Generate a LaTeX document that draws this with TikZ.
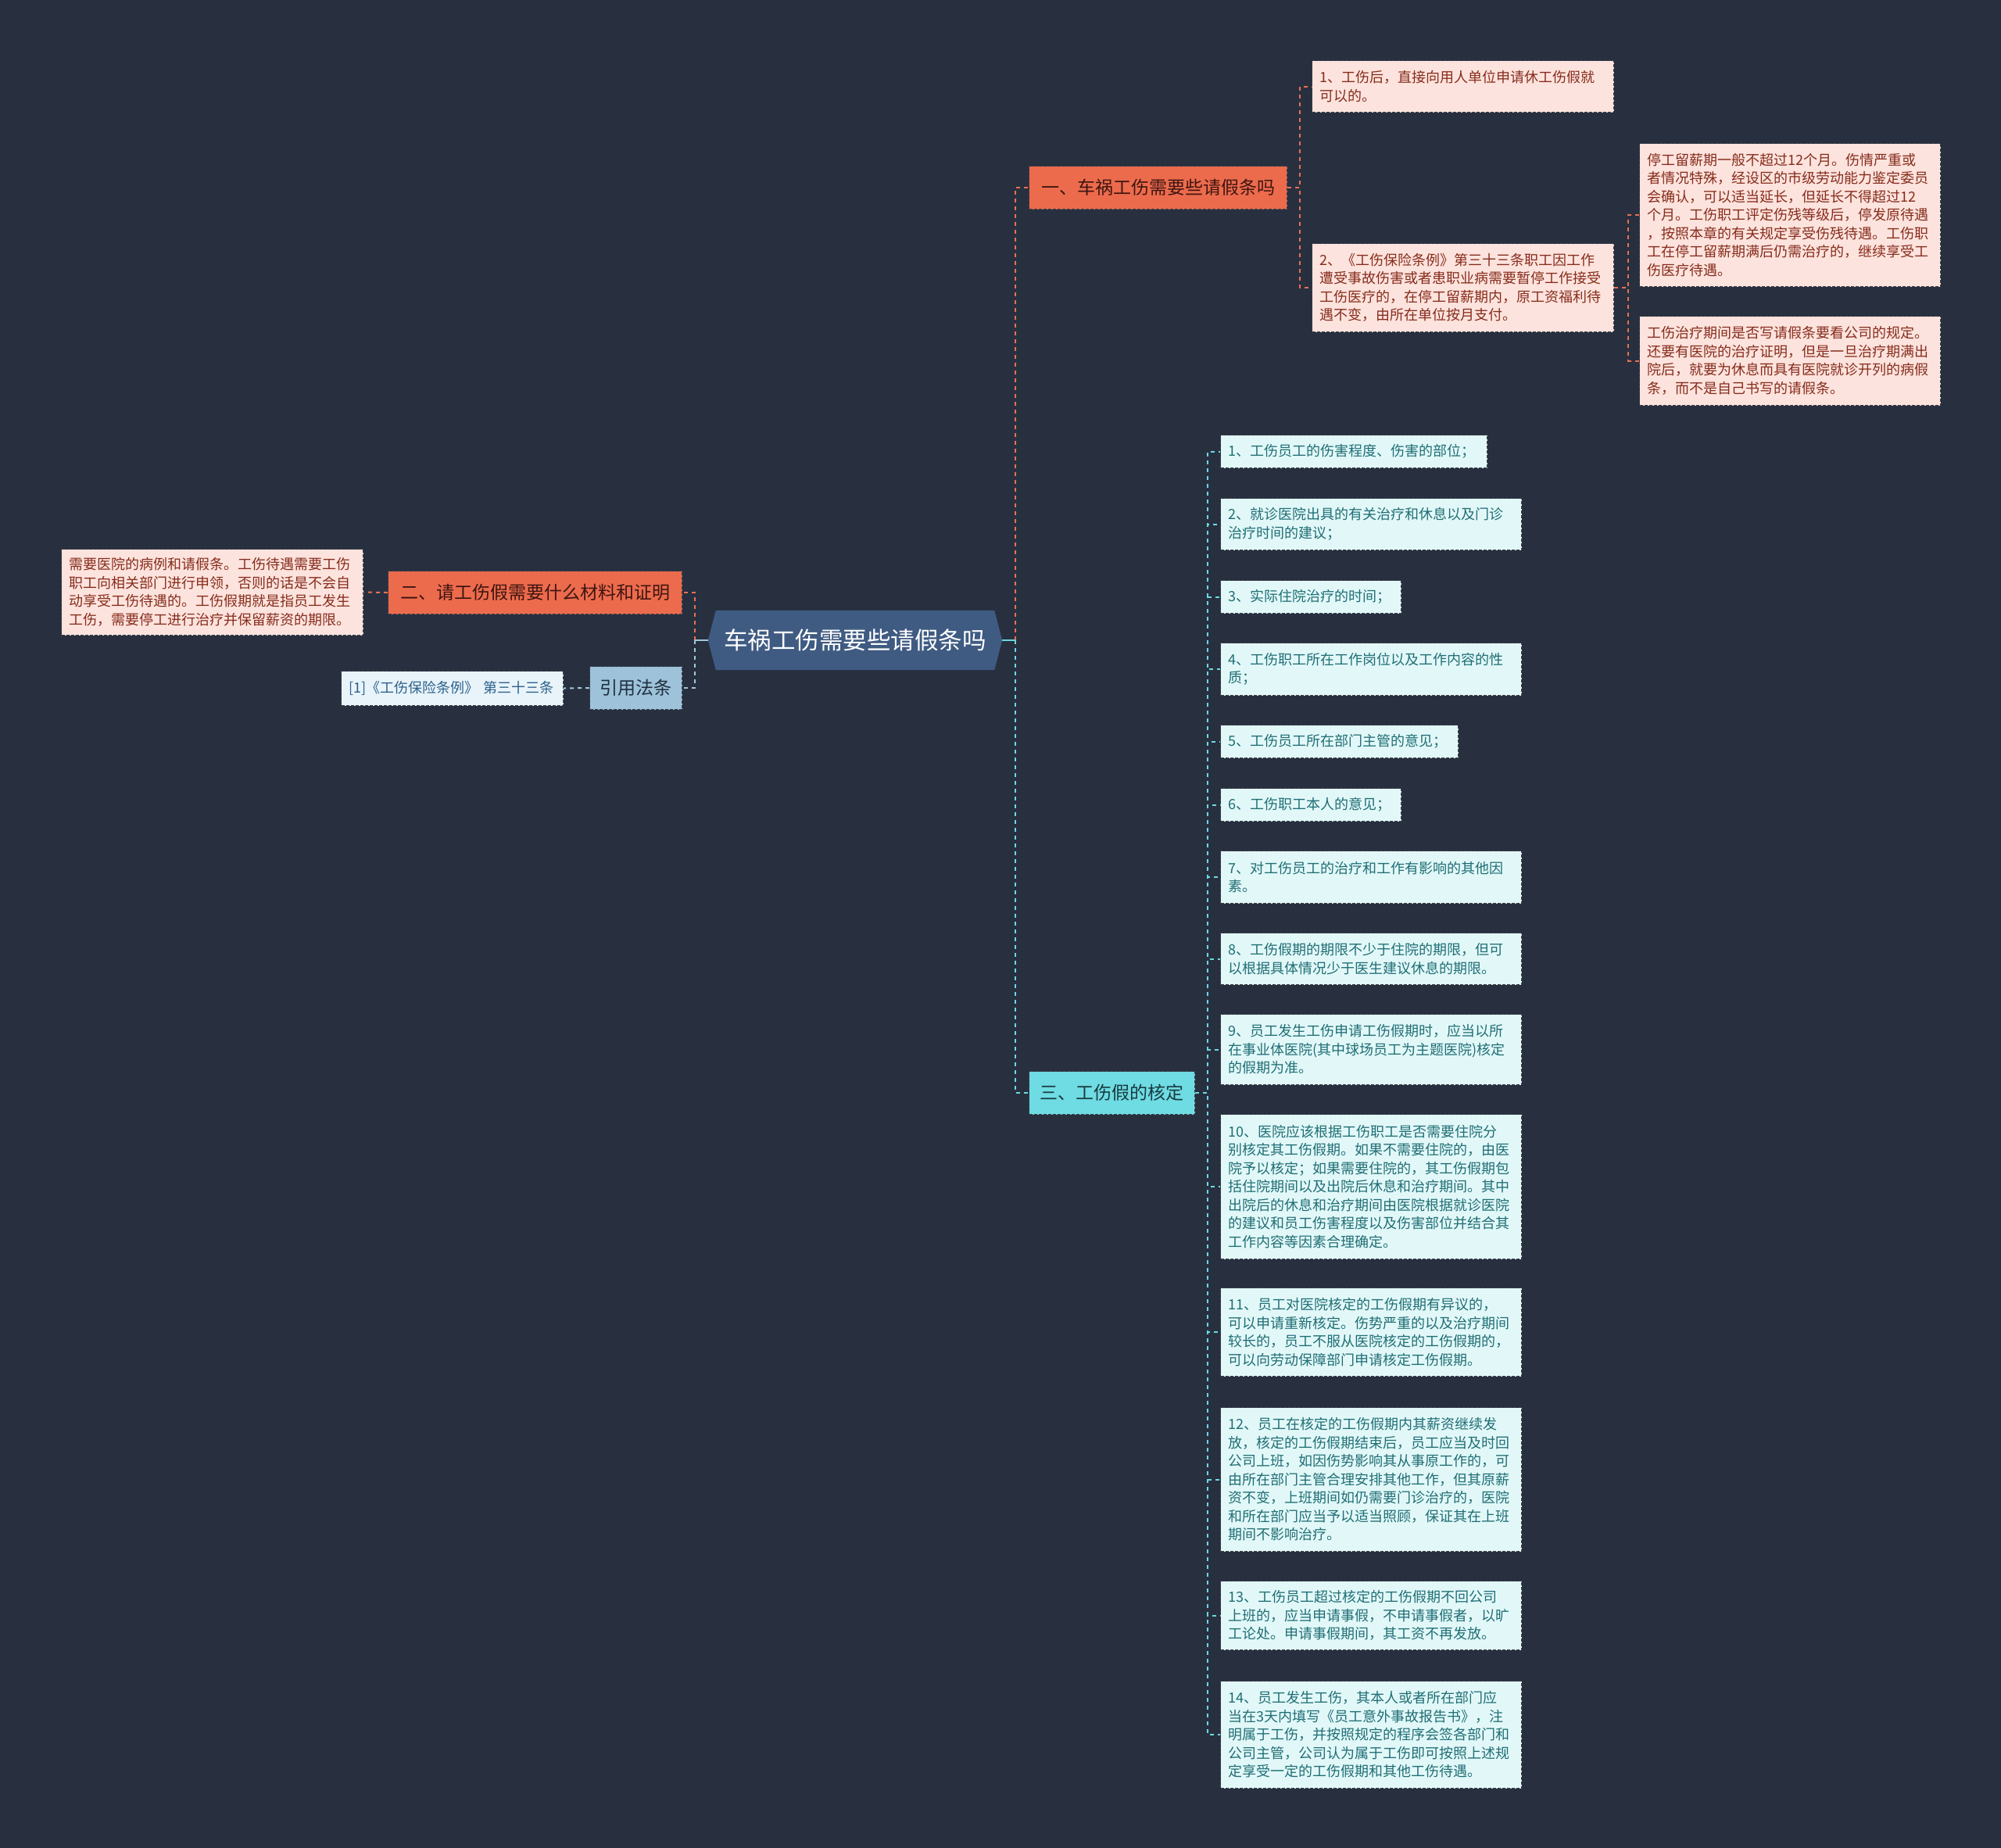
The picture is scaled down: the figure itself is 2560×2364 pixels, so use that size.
\documentclass[tikz,border=0pt]{standalone}
\usepackage{fontspec}
\setmainfont{Noto Sans CJK SC}
\usetikzlibrary{backgrounds}
\definecolor{bg}{HTML}{283040}
\definecolor{cfill}{HTML}{3F5B82}
\definecolor{ofill}{HTML}{EC6B4D}
\definecolor{otext}{HTML}{3E1510}
\definecolor{pfill}{HTML}{FDE3DD}
\definecolor{ptext}{HTML}{862C1C}
\definecolor{cyfill}{HTML}{6FDBE2}
\definecolor{cytext}{HTML}{183A40}
\definecolor{lcfill}{HTML}{E2F8F8}
\definecolor{lctext}{HTML}{1F6E75}
\definecolor{bfill}{HTML}{9DC2DA}
\definecolor{btext}{HTML}{1E2E3E}
\definecolor{rfill}{HTML}{E8F4FA}
\definecolor{rtext}{HTML}{2D5F8A}
\definecolor{bord}{HTML}{3C4048}
\definecolor{conO}{HTML}{E8704F}
\definecolor{conC}{HTML}{6ADBE2}
\definecolor{conB}{HTML}{A3C6DC}
\begin{document}
\begin{tikzpicture}[x=1pt,y=-1pt,
  boxbase/.style={anchor=north west, inner xsep=10pt, inner ysep=0pt, draw=bord, line width=1pt, dash pattern=on 4pt off 2pt},
  leafO/.style={boxbase, fill=pfill, text=ptext, align=left, font=\fontsize{18}{23.5}\selectfont},
  leafC/.style={boxbase, fill=lcfill, text=lctext, align=left, font=\fontsize{18}{23.5}\selectfont},
  leafR/.style={boxbase, fill=rfill, text=rtext, align=left, font=\fontsize{18}{22}\selectfont},
  brO/.style={boxbase, fill=ofill, text=otext, align=center, font=\fontsize{23}{28}\selectfont, minimum height=55pt},
  brC/.style={boxbase, fill=cyfill, text=cytext, align=center, font=\fontsize{23}{28}\selectfont, minimum height=55pt},
  brB/.style={boxbase, fill=bfill, text=btext, align=center, font=\fontsize{23}{28}\selectfont, minimum height=55pt},
  co/.style={draw=conO, line width=2pt, dash pattern=on 5pt off 5pt},
  cc/.style={draw=conC, line width=2pt, dash pattern=on 5pt off 5pt},
  cb/.style={draw=conB, line width=2pt, dash pattern=on 5pt off 5pt},
  ccs/.style={draw=conC, line width=2pt},
  cbs/.style={draw=conB, line width=2pt}]
\useasboundingbox (0,0) rectangle (2560,2364);

% central node
\node[minimum width=376pt, minimum height=76pt, inner sep=0pt, text=white, font=\fontsize{30.5}{36}\selectfont] (c) at (1094,819) {车祸工伤需要些请假条吗};
\begin{scope}[on background layer]
  \fill[bg] (0,0) rectangle (2560,2364);
  \fill[cfill] (c.west) -- ([xshift=10pt]c.north west) -- ([xshift=-10pt]c.north east) -- (c.east) -- ([xshift=-10pt]c.south east) -- ([xshift=10pt]c.south west) -- cycle;
\end{scope}

% branches
\node[brO, minimum width=330pt] (b1) at (1316,212) {一、车祸工伤需要些请假条吗};
\node[brO, minimum width=376pt] (b2) at (496,730) {二、请工伤假需要什么材料和证明};
\node[brC, minimum width=212pt] (b3) at (1316,1370) {三、工伤假的核定};
\node[brB, minimum width=118pt] (yin) at (754,852) {引用法条};

% branch 1 leaves
\node[leafO, text width=366pt, minimum height=66pt] (l11) at (1678,77) {1、工伤后，直接向用人单位申请休工伤假就\\可以的。};
\node[leafO, text width=366pt, minimum height=113pt] (l12) at (1678,311) {2、《工伤保险条例》第三十三条职工因工作\\遭受事故伤害或者患职业病需要暂停工作接受\\工伤医疗的，在停工留薪期内，原工资福利待\\遇不变，由所在单位按月支付。};
\node[leafO, text width=365pt, minimum height=183pt] (l12a) at (2097,183) {停工留薪期一般不超过12个月。伤情严重或\\者情况特殊，经设区的市级劳动能力鉴定委员\\会确认，可以适当延长，但延长不得超过12\\个月。工伤职工评定伤残等级后，停发原待遇\\，按照本章的有关规定享受伤残待遇。工伤职\\工在停工留薪期满后仍需治疗的，继续享受工\\伤医疗待遇。};
\node[leafO, text width=365pt, minimum height=114pt] (l12b) at (2097,404) {工伤治疗期间是否写请假条要看公司的规定。\\还要有医院的治疗证明，但是一旦治疗期满出\\院后，就要为休息而具有医院就诊开列的病假\\条，而不是自己书写的请假条。};

% branch 2 leaf
\node[leafO, text width=366pt, minimum height=110pt] (l21) at (78,702) {需要医院的病例和请假条。工伤待遇需要工伤\\职工向相关部门进行申领，否则的话是不会自\\动享受工伤待遇的。工伤假期就是指员工发生\\工伤，需要停工进行治疗并保留薪资的期限。};

% reference leaf
\node[leafR, text width=264pt, minimum height=44pt] (ref) at (436,858) {[1]《工伤保险条例》 第三十三条};

% branch 3 leaves
\node[leafC, text width=321pt, minimum height=42pt] (m1) at (1561,556) {1、工伤员工的伤害程度、伤害的部位；};
\node[leafC, text width=365pt, minimum height=66pt] (m2) at (1561,637) {2、就诊医院出具的有关治疗和休息以及门诊\\治疗时间的建议；};
\node[leafC, text width=211pt, minimum height=42pt] (m3) at (1561,742) {3、实际住院治疗的时间；};
\node[leafC, text width=365pt, minimum height=67pt] (m4) at (1561,822) {4、工伤职工所在工作岗位以及工作内容的性\\质；};
\node[leafC, text width=284pt, minimum height=42pt] (m5) at (1561,927) {5、工伤员工所在部门主管的意见；};
\node[leafC, text width=211pt, minimum height=42pt] (m6) at (1561,1008) {6、工伤职工本人的意见；};
\node[leafC, text width=365pt, minimum height=67pt] (m7) at (1561,1088) {7、对工伤员工的治疗和工作有影响的其他因\\素。};
\node[leafC, text width=365pt, minimum height=66pt] (m8) at (1561,1193) {8、工伤假期的期限不少于住院的期限，但可\\以根据具体情况少于医生建议休息的期限。};
\node[leafC, text width=365pt, minimum height=90pt] (m9) at (1561,1297) {9、员工发生工伤申请工伤假期时，应当以所\\在事业体医院(其中球场员工为主题医院)核定\\的假期为准。};
\node[leafC, text width=365pt, minimum height=185pt] (m10) at (1561,1425) {10、医院应该根据工伤职工是否需要住院分\\别核定其工伤假期。如果不需要住院的，由医\\院予以核定；如果需要住院的，其工伤假期包\\括住院期间以及出院后休息和治疗期间。其中\\出院后的休息和治疗期间由医院根据就诊医院\\的建议和员工伤害程度以及伤害部位并结合其\\工作内容等因素合理确定。};
\node[leafC, text width=365pt, minimum height=113pt] (m11) at (1561,1647) {11、员工对医院核定的工伤假期有异议的，\\可以申请重新核定。伤势严重的以及治疗期间\\较长的，员工不服从医院核定的工伤假期的，\\可以向劳动保障部门申请核定工伤假期。};
\node[leafC, text width=365pt, minimum height=184pt] (m12) at (1561,1800) {12、员工在核定的工伤假期内其薪资继续发\\放，核定的工伤假期结束后，员工应当及时回\\公司上班，如因伤势影响其从事原工作的，可\\由所在部门主管合理安排其他工作，但其原薪\\资不变，上班期间如仍需要门诊治疗的，医院\\和所在部门应当予以适当照顾，保证其在上班\\期间不影响治疗。};
\node[leafC, text width=365pt, minimum height=88pt] (m13) at (1561,2022) {13、工伤员工超过核定的工伤假期不回公司\\上班的，应当申请事假，不申请事假者，以旷\\工论处。申请事假期间，其工资不再发放。};
\node[leafC, text width=365pt, minimum height=137pt] (m14) at (1561,2150) {14、员工发生工伤，其本人或者所在部门应\\当在3天内填写《员工意外事故报告书》，注\\明属于工伤，并按照规定的程序会签各部门和\\公司主管，公司认为属于工伤即可按照上述规\\定享受一定的工伤假期和其他工伤待遇。};

% connectors from center
\coordinate (jr) at ([xshift=17pt]c.east);
\coordinate (jl) at ([xshift=-17pt]c.west);
\draw[co] (jr) |- (b1.west);
\draw[cc] (jr) |- (b3.west);
\draw[ccs] (c.east) -- (jr);
\draw[co] (jl) |- (b2.east);
\draw[cb] (jl) |- (yin.east);
\draw[cbs] (c.west) -- (jl);

% branch 1
\draw[co] (b1.east) -- ++(16,0) |- (l11.west);
\draw[co] (b1.east) -- ++(16,0) |- (l12.west);
\draw[co] (l12.east) -- ++(18,0) |- (l12a.west);
\draw[co] (l12.east) -- ++(18,0) |- (l12b.west);

% branch 2 and reference
\draw[co] (b2.west) -- (l21.east);
\draw[cb] (yin.west) -- (ref.east);

% branch 3
\foreach \m in {m1,m2,m3,m4,m5,m6,m7,m8,m9,m10,m11,m12,m13,m14}{
  \draw[cc] (b3.east) -- ++(16,0) |- (\m.west);
}
\end{tikzpicture}
\end{document}
